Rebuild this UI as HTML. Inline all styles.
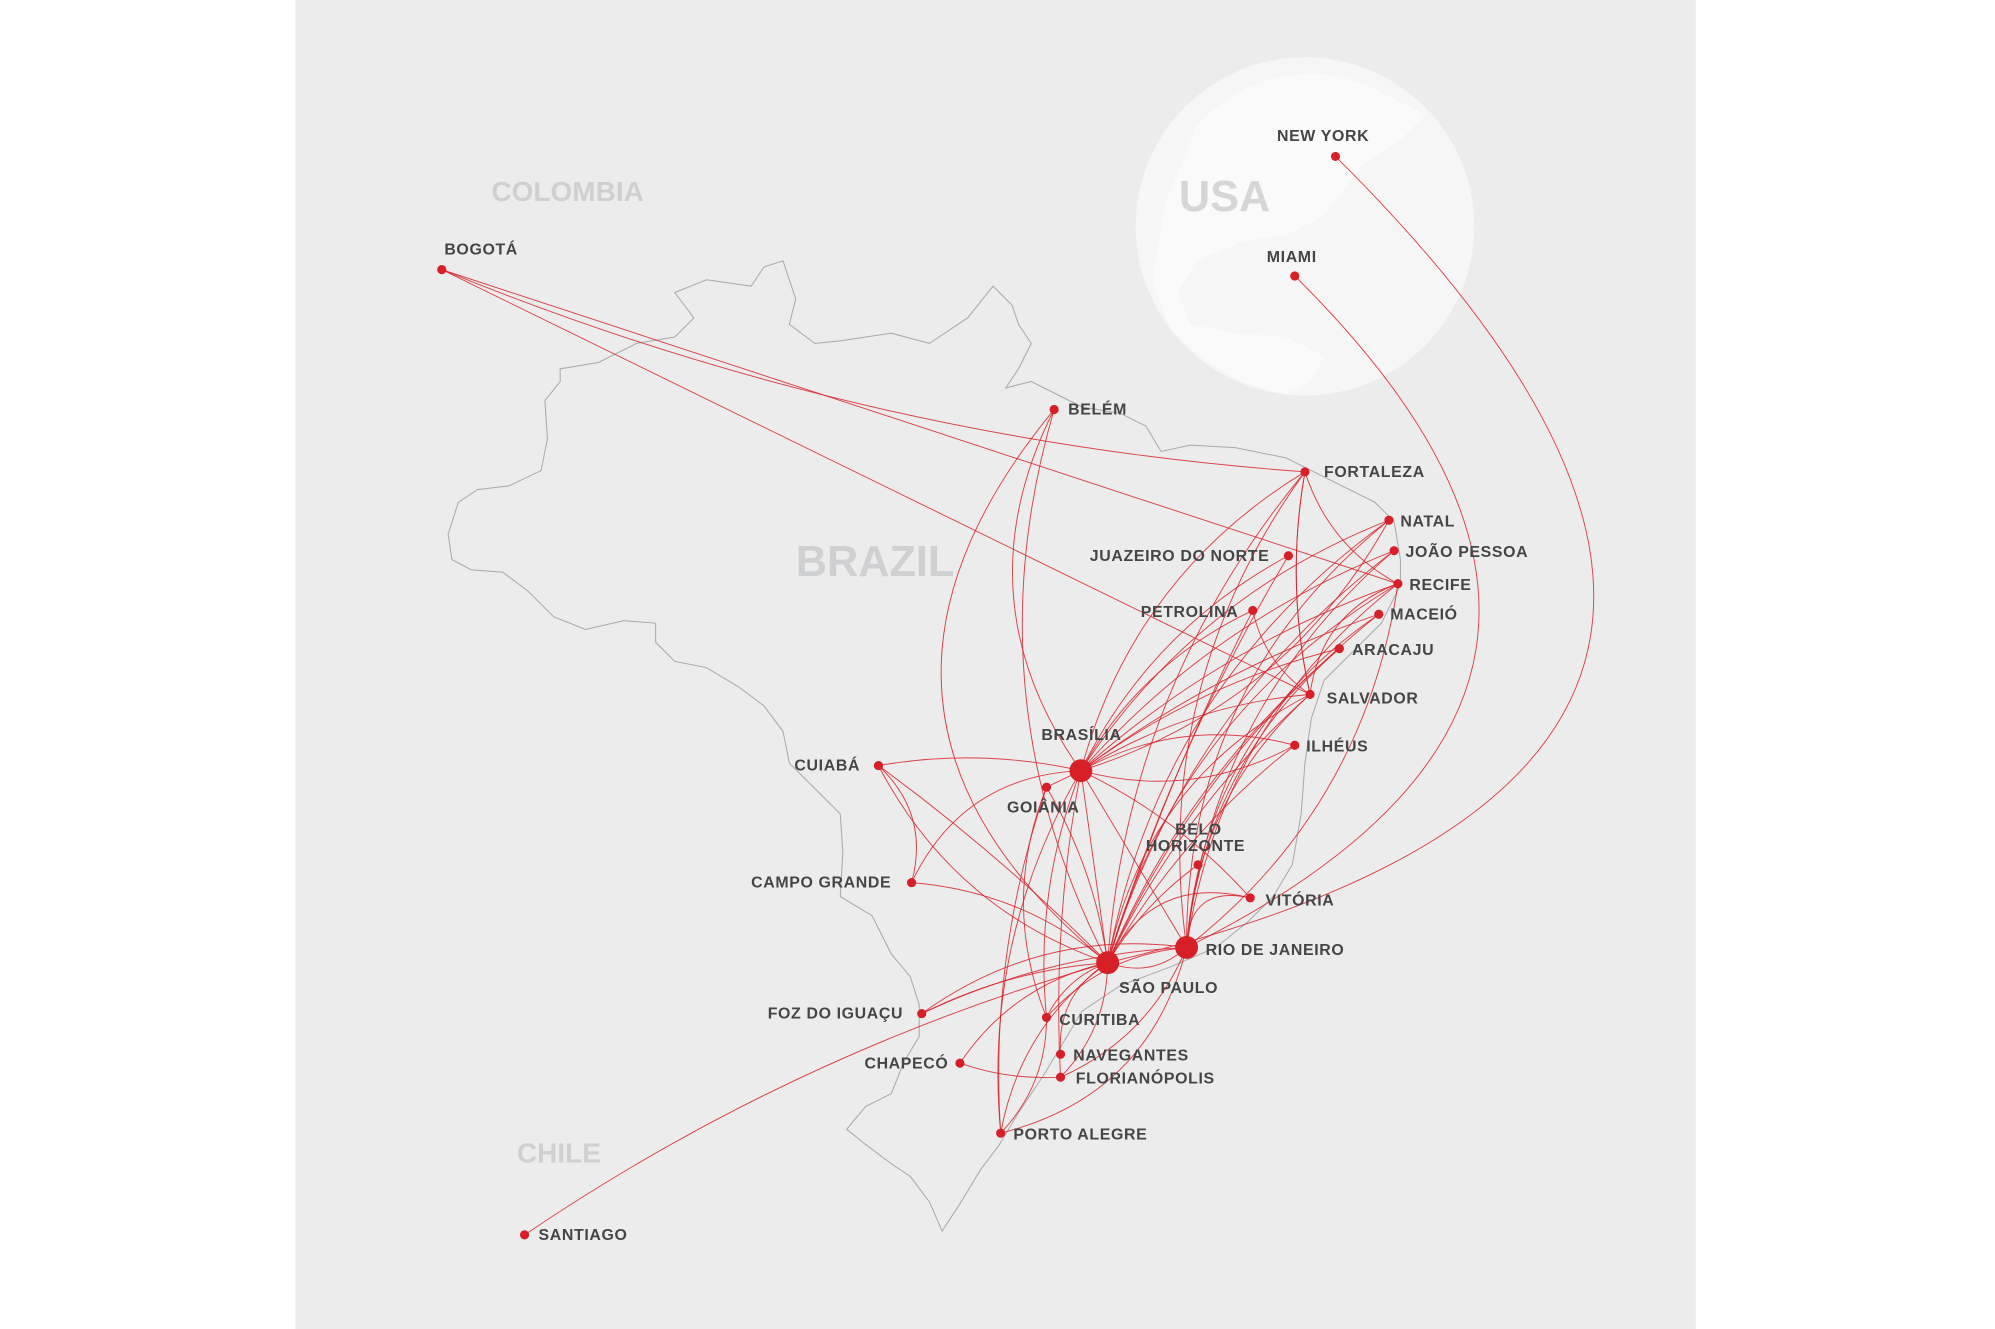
<!DOCTYPE html>
<html><head><meta charset="utf-8"><style>
html,body{margin:0;padding:0;background:#fff;}
svg{display:block}
text{font-family:"Liberation Sans",sans-serif;}
.l{font-size:12.5px;fill:#454545;letter-spacing:0.5px;font-weight:bold}
.c{fill:#cfd0d2;font-weight:bold}
</style></head><body>
<svg id="s" width="1995" height="1329" viewBox="0 0 1567 1045" preserveAspectRatio="none" xmlns="http://www.w3.org/2000/svg">
<rect x="0" y="0" width="1567" height="1045" fill="#fff"/>
<rect x="232" y="0" width="1100" height="1045" fill="#ececed"/>
<circle cx="1025" cy="178" r="133" fill="#f6f6f7"/>
<path d="M940,100 C970,62 1030,45 1080,70 L1120,90 L1100,110 L1070,130 L1040,170 L1010,185 L975,190 L940,205 L925,230 L935,255 L970,262 L1010,265 L1040,280 L1030,300 L1010,310 L975,300 L945,282 L920,260 L905,220 L915,160 Z" fill="#fafafa"/>
<path id="br" d="M440,290 L470,285 L500,270 L530,265 L545,250 L530,230 L555,220 L590,225 L600,210 L615,205 L625,235 L620,255 L640,270 L660,268 L700,262 L730,270 L760,250 L780,225 L795,240 L800,255 L810,270 L800,290 L790,305 L810,300 L830,310 L850,320 L880,325 L900,335 L912,355 L935,350 L970,352 L1010,360 L1040,375 L1080,395 L1095,410 L1100,440 L1100,460 L1085,490 L1060,515 L1040,535 L1030,565 L1025,600 L1022,640 L1015,680 L1000,705 L980,725 L955,745 L920,760 L880,775 L850,795 L835,820 L820,845 L800,875 L785,900 L770,920 L755,945 L740,968 L730,945 L715,925 L700,915 L680,900 L665,888 L680,870 L700,860 L710,835 L722,815 L722,790 L715,768 L700,750 L685,720 L660,705 L662,670 L660,640 L645,625 L620,600 L615,575 L600,555 L580,540 L555,525 L530,520 L515,505 L515,490 L490,488 L460,495 L435,485 L415,465 L395,450 L370,448 L355,440 L352,420 L360,395 L375,385 L400,382 L425,370 L430,345 L428,315 L440,300 Z" fill="none" stroke="#a9a9ab" stroke-width="0.8"/>
<text x="386" y="158" class="c" font-size="22">COLOMBIA</text>
<text x="625" y="453" class="c" font-size="34">BRAZIL</text>
<text x="926" y="166" class="c" font-size="34" style="fill:#d6d6d8">USA</text>
<text x="406" y="914" class="c" font-size="22">CHILE</text>
<g id="edges" fill="none" stroke="#d8232a" stroke-width="0.75" stroke-opacity="0.85"></g>
<g id="nodes" fill="#d61f26"></g>
<g>
<text x="1003" y="111" class="l">NEW YORK</text>
<text x="995" y="206" class="l">MIAMI</text>
<text x="349" y="200" class="l">BOGOTÁ</text>
<text x="839" y="326" class="l">BELÉM</text>
<text x="1040" y="375" class="l">FORTALEZA</text>
<text x="1100" y="414" class="l">NATAL</text>
<text x="1104" y="438" class="l">JOÃO PESSOA</text>
<text x="856" y="441" class="l">JUAZEIRO DO NORTE</text>
<text x="1107" y="464" class="l">RECIFE</text>
<text x="896" y="485" class="l">PETROLINA</text>
<text x="1092" y="487" class="l">MACEIÓ</text>
<text x="1062" y="515" class="l">ARACAJU</text>
<text x="1042" y="553" class="l">SALVADOR</text>
<text x="1026" y="591" class="l">ILHÉUS</text>
<text x="818" y="582" class="l">BRASÍLIA</text>
<text x="624" y="606" class="l">CUIABÁ</text>
<text x="791" y="639" class="l">GOIÂNIA</text>
<text x="923" y="656" class="l">BELO</text>
<text x="900" y="669" class="l">HORIZONTE</text>
<text x="590" y="698" class="l">CAMPO GRANDE</text>
<text x="994" y="712" class="l">VITÓRIA</text>
<text x="947" y="751" class="l">RIO DE JANEIRO</text>
<text x="879" y="781" class="l">SÃO PAULO</text>
<text x="603" y="801" class="l">FOZ DO IGUAÇU</text>
<text x="832" y="806" class="l">CURITIBA</text>
<text x="843" y="834" class="l">NAVEGANTES</text>
<text x="679" y="840" class="l">CHAPECÓ</text>
<text x="845" y="852" class="l">FLORIANÓPOLIS</text>
<text x="796" y="896" class="l">PORTO ALEGRE</text>
<text x="423" y="975" class="l">SANTIAGO</text>
</g>
</svg>
<script>
var P={ny:[1049,123],mia:[1017,217],bog:[347,212],bel:[828,322],for:[1025,371],nat:[1091,409],jp:[1095,433],jua:[1012,437],rec:[1098,459],pet:[984,480],mac:[1083,483],ara:[1052,510],sal:[1029,546],ilh:[1017,586],bsb:[849,606],cui:[690,602],goi:[822,619],cg:[716,694],bh:[941,680],vit:[982,706],rio:[932,745],sp:[870,757],foz:[724,797],cwb:[822,800],nvt:[833,829],xap:[754,836],fln:[833,847],poa:[786,891],scl:[412,971]};
var E=[["ny","sp",-0.45],["mia","rio",-0.35],["bog","for",0.04],["bog","rec",0],["bog","sal",0],["scl","sp",-0.04],
["bsb","bel",-0.15],["bsb","for",-0.1],["bsb","nat",-0.08],["bsb","jp",-0.06],["bsb","rec",-0.05],["bsb","mac",-0.04],["bsb","ara",-0.05],["bsb","sal",-0.06],["bsb","ilh",0.1],["bsb","jua",-0.08],["bsb","pet",-0.08],["bsb","cui",0.05],["bsb","cg",0.15],["bsb","sp",0],["bsb","rio",0],["bsb","goi",0],["bsb","poa",0.08],["bsb","cwb",0.06],["bsb","fln",0.03],["bsb","vit",-0.05],
["sp","bel",-0.25],["sp","for",-0.08],["sp","nat",-0.1],["sp","jp",-0.08],["sp","rec",-0.1],["sp","mac",-0.06],["sp","ara",-0.06],["sp","sal",-0.05],["sp","ilh",-0.05],["sp","jua",-0.03],["sp","pet",-0.02],["sp","cui",0.02],["sp","cg",0.08],["sp","foz",0.05],["sp","cwb",0.1],["sp","nvt",0.15],["sp","fln",-0.1],["sp","poa",0.1],["sp","xap",0.1],["sp","goi",0.05],["sp","bh",-0.05],["sp","vit",-0.2],["sp","rio",0.15],
["rio","for",-0.1],["rio","rec",-0.1],["rio","sal",-0.1],["rio","nat",-0.12],["rio","mac",-0.12],["rio","ara",-0.1],["rio","poa",-0.15],["rio","fln",-0.1],["rio","foz",0.1],["rio","vit",-0.3],["rio","cwb",0.1],["rio","rec",0.1],["rio","jp",-0.1],
["cui","cg",-0.15],["cui","sp",0.1],["xap","fln",0.05],["pet","sal",0.1],["for","rec",0.1],["for","sal",0.05],["rec","sal",0.15],["sal","for",-0.05],["bel","sp",0.1],["goi","poa",0.05],["goi","cwb",0.1],["poa","cwb",0.1],["foz","rio",-0.05],["bsb","ilh",-0.1],["sal","sp",0.12],["bsb","nat",0.1]];
var g=document.getElementById('edges'),h='';
E.forEach(function(e){var a=P[e[0]],b=P[e[1]],mx=(a[0]+b[0])/2,my=(a[1]+b[1])/2,dx=b[0]-a[0],dy=b[1]-a[1];
var cx=mx-dy*e[2]*2,cy=my+dx*e[2]*2;h+='<path d="M'+a[0]+','+a[1]+' Q'+cx.toFixed(1)+','+cy.toFixed(1)+' '+b[0]+','+b[1]+'"/>';});
g.innerHTML=h;
var n='';for(var k in P){var r=(k=='sp'||k=='bsb'||k=='rio')?9:3.6;n+='<circle cx="'+P[k][0]+'" cy="'+P[k][1]+'" r="'+r+'"/>';}
document.getElementById('nodes').innerHTML=n;
</script>
</body></html>
